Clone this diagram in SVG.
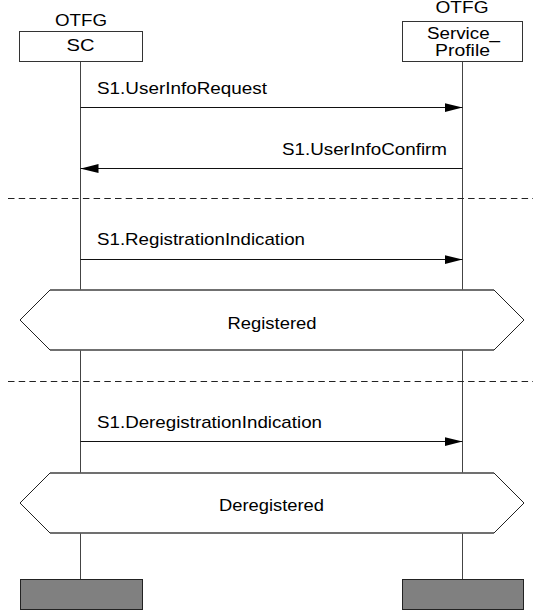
<svg xmlns="http://www.w3.org/2000/svg" width="533" height="612" viewBox="0 0 533 612">
<defs>
<style>
text{font-family:"Liberation Sans",Arial,sans-serif;font-size:17px;fill:#000}
.c{text-anchor:middle}
.sm{font-size:16px}
.box{fill:#fff;stroke:#333;stroke-width:1}
.end{fill:#808080;stroke:#222;stroke-width:1}
.life{stroke:#444;stroke-width:1;fill:none}
.msg{stroke:#111;stroke-width:1;fill:none}
.dash{stroke:#222;stroke-width:1;stroke-dasharray:6.5 4.2;fill:none}
.hex{fill:#fff;stroke:#222;stroke-width:1}
.hexedge{stroke:#666;stroke-width:1.5;fill:none}
</style>
<marker id="ah" markerWidth="18" markerHeight="9" refX="18" refY="4.5" orient="auto" markerUnits="userSpaceOnUse">
<path d="M0,0 L18,4.5 L0,9 Z" fill="#000"/>
</marker>
</defs>
<g id="lifelines">
<line class="life" x1="80.5" y1="61" x2="80.5" y2="579"/>
<line class="life" x1="462.5" y1="61" x2="462.5" y2="579"/>
</g>
<g id="sc">
<text class="c" x="81" y="26" textLength="52" lengthAdjust="spacingAndGlyphs">OTFG</text>
<rect class="box" x="19.5" y="31.5" width="123" height="30"/>
<text class="c" x="80.5" y="51" textLength="28" lengthAdjust="spacingAndGlyphs">SC</text>
</g>
<g id="service_profile">
<text class="c" x="462" y="13" textLength="53" lengthAdjust="spacingAndGlyphs">OTFG</text>
<rect class="box" x="402.5" y="21.5" width="120" height="40"/>
<text class="c sm" x="463.5" y="39" textLength="73" lengthAdjust="spacingAndGlyphs">Service_</text>
<text class="c sm" x="462.5" y="56" textLength="55" lengthAdjust="spacingAndGlyphs">Profile</text>
</g>
<g id="connectors">
<line class="msg" x1="80.5" y1="107.5" x2="462.5" y2="107.5" marker-end="url(#ah)"/>
<text x="97" y="94" textLength="170" lengthAdjust="spacingAndGlyphs">S1.UserInfoRequest</text>
<line class="msg" x1="462.5" y1="168.5" x2="80.5" y2="168.5" marker-end="url(#ah)"/>
<text x="282" y="155" textLength="165" lengthAdjust="spacingAndGlyphs">S1.UserInfoConfirm</text>
<line class="msg" x1="80.5" y1="259.5" x2="462.5" y2="259.5" marker-end="url(#ah)"/>
<text x="97" y="245" textLength="208" lengthAdjust="spacingAndGlyphs">S1.RegistrationIndication</text>
<line class="msg" x1="80.5" y1="441.5" x2="462.5" y2="441.5" marker-end="url(#ah)"/>
<text x="97" y="428" textLength="225" lengthAdjust="spacingAndGlyphs">S1.DeregistrationIndication</text>
</g>
<g id="separators">
<line class="dash" x1="8" y1="198.5" x2="533" y2="198.5"/>
<line class="dash" x1="8" y1="381.5" x2="533" y2="381.5"/>
</g>
<g id="registered">
<polygon class="hex" points="20,320 50,290 494,290 524,320 494,350 50,350"/>
<line class="hexedge" x1="50" y1="290" x2="494" y2="290"/>
<line class="hexedge" x1="50" y1="350" x2="494" y2="350"/>
<text class="c" x="272" y="329" textLength="89" lengthAdjust="spacingAndGlyphs">Registered</text>
</g>
<g id="deregistered">
<polygon class="hex" points="20,503 50,473 494,473 524,503 494,533 50,533"/>
<line class="hexedge" x1="50" y1="473" x2="494" y2="473"/>
<line class="hexedge" x1="50" y1="533" x2="494" y2="533"/>
<text class="c" x="271.5" y="511" textLength="105" lengthAdjust="spacingAndGlyphs">Deregistered</text>
</g>
<g id="sc_end">
<rect class="end" x="20.5" y="579.5" width="122" height="30"/>
</g>
<g id="service_profile_end">
<rect class="end" x="402.5" y="579.5" width="121" height="30"/>
</g>
</svg>
